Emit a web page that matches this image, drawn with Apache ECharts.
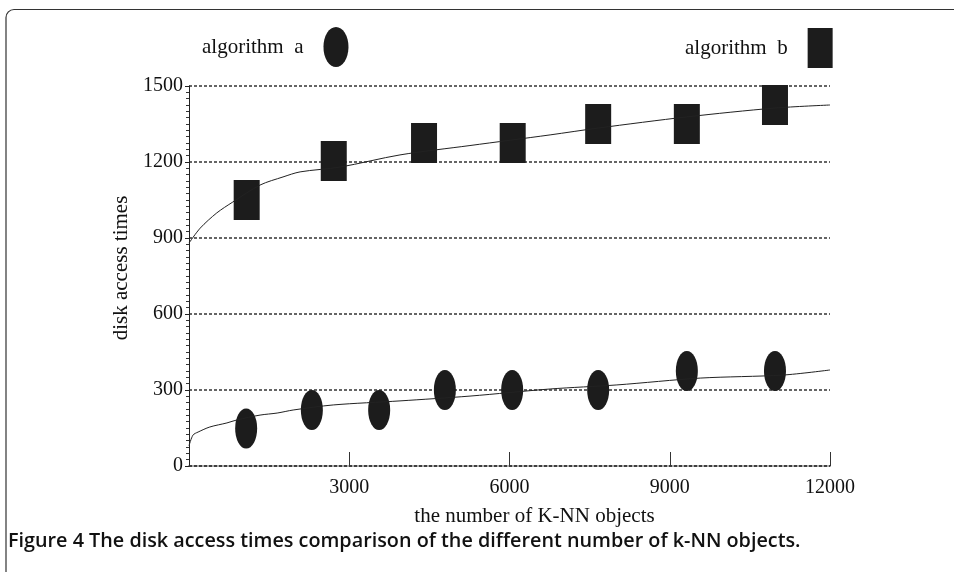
<!DOCTYPE html>
<html>
<head>
<meta charset="utf-8">
<script src="https://cdn.jsdelivr.net/npm/echarts@6/dist/echarts.min.js"></script>
<style>
  html, body { margin: 0; padding: 0; background: #fff; }
  #chart { width: 954px; height: 572px; }
</style>
</head>
<body>
<div id="chart"></div>
<script>
// values
const xTicks = [0, 3000, 6000, 9000, 12000];
const yTicks = [0, 300, 600, 900, 1200, 1500];

const algoA = [
  [1070, 148], [2300, 221], [3560, 221], [4790, 300],
  [6050, 300], [7660, 300], [9320, 375], [10970, 375]
];
const algoB = [
  [1080, 1050], [2710, 1204], [4400, 1275], [6060, 1275],
  [7660, 1350], [9320, 1350], [10970, 1425]
];

// fitted trend curves as drawn in the figure
const trendA = [
  [0, 80], [75, 122], [170, 134], [390, 154], [710, 170], [900, 182],
  [1330, 201], [1650, 209], [1950, 221], [2700, 241], [3950, 257],
  [5260, 276], [6760, 304], [8010, 320], [9570, 347], [11120, 359], [12000, 379]
];
const trendB = [
  [0, 880], [210, 939], [520, 999], [820, 1042], [1330, 1109], [1760, 1141],
  [2080, 1161], [2830, 1180], [3950, 1228], [5260, 1265], [6760, 1307],
  [7660, 1334], [9320, 1378], [10970, 1413], [12000, 1425]
];

const ellipse = 'path://M50,0A50,50 0 1,1 50,100A50,50 0 1,1 50,0Z';
const ink = '#1c1c1c';
const serif = 'Liberation Serif';
const plain = v => String(v);

const chart = echarts.init(document.getElementById('chart'));

chart.setOption({
  backgroundColor: '#fff',
  animation: false,
  title: {
    text: 'Figure 4 The disk access times comparison of the different number of k-NN objects.',
    left: 8,
    top: 531,
    padding: 0,
    textStyle: { fontFamily: 'Open Sans', fontWeight: 600, fontSize: 19.8, color: '#111' }
  },
  graphic: [{
    type: 'rect',
    shape: { x: 6, y: 9.5, width: 970, height: 620, r: 8 },
    style: { fill: 'none', stroke: '#333', lineWidth: 1.2 },
    silent: true
  }],
  legend: [{
    data: [{ name: 'algorithm  a', icon: ellipse }],
    left: 197,
    top: 22,
    align: 'right',
    itemWidth: 25,
    itemHeight: 40,
    symbolKeepAspect: false,
    textStyle: { fontFamily: serif, fontSize: 21, color: '#111', padding: [0, 15, 0, 0] }
  }, {
    data: [{ name: 'algorithm  b', icon: 'rect' }],
    left: 680,
    top: 23,
    align: 'right',
    itemWidth: 25,
    itemHeight: 40,
    symbolKeepAspect: false,
    textStyle: { fontFamily: serif, fontSize: 21, color: '#111', padding: [0, 15, 0, 0] }
  }],
  grid: { left: 189, right: 124, top: 86, bottom: 106 },
  xAxis: {
    type: 'value',
    min: xTicks[0],
    max: xTicks[xTicks.length - 1],
    interval: 3000,
    name: 'the number of K-NN objects',
    nameLocation: 'middle',
    nameGap: 40,
    nameTextStyle: { fontFamily: serif, fontSize: 21, color: '#111', padding: [0, 0, 0, 50] },
    axisLine: { lineStyle: { color: '#333', width: 1.5, type: [3, 2] } },
    axisTick: { inside: true, length: 14, lineStyle: { color: '#333' } },
    axisLabel: {
      showMinLabel: false,
      margin: 12,
      formatter: plain,
      fontFamily: serif,
      fontSize: 20,
      color: '#111'
    },
    splitLine: { show: false }
  },
  yAxis: {
    type: 'value',
    min: yTicks[0],
    max: yTicks[yTicks.length - 1],
    interval: 300,
    name: 'disk access times',
    nameLocation: 'middle',
    nameGap: 52,
    nameTextStyle: { fontFamily: serif, fontSize: 21, color: '#111', padding: [0, 0, 0, 16] },
    axisLine: { show: true, lineStyle: { color: '#222', width: 1 } },
    axisTick: { show: true, length: 4, lineStyle: { color: '#222' } },
    minorTick: { show: true, splitNumber: 12, length: 3, lineStyle: { color: '#333' } },
    axisLabel: { margin: 6, formatter: plain, fontFamily: serif, fontSize: 20, color: '#111' },
    splitLine: { show: true, lineStyle: { color: '#333', width: 1.5, type: [3, 2] } }
  },
  series: [{
    name: 'algorithm  a',
    type: 'scatter',
    data: algoA,
    symbol: ellipse,
    symbolSize: [22, 40],
    itemStyle: { color: ink, opacity: 1 },
    z: 3
  }, {
    name: 'algorithm  b',
    type: 'scatter',
    data: algoB,
    symbol: 'rect',
    symbolSize: [26, 40],
    itemStyle: { color: ink, opacity: 1 },
    z: 3
  }, {
    name: 'trend a',
    type: 'line',
    data: trendA,
    smooth: 0.3,
    showSymbol: false,
    lineStyle: { color: '#222', width: 1 },
    z: 4
  }, {
    name: 'trend b',
    type: 'line',
    data: trendB,
    smooth: 0.3,
    showSymbol: false,
    lineStyle: { color: '#222', width: 1 },
    z: 4
  }]
});
</script>
</body>
</html>
